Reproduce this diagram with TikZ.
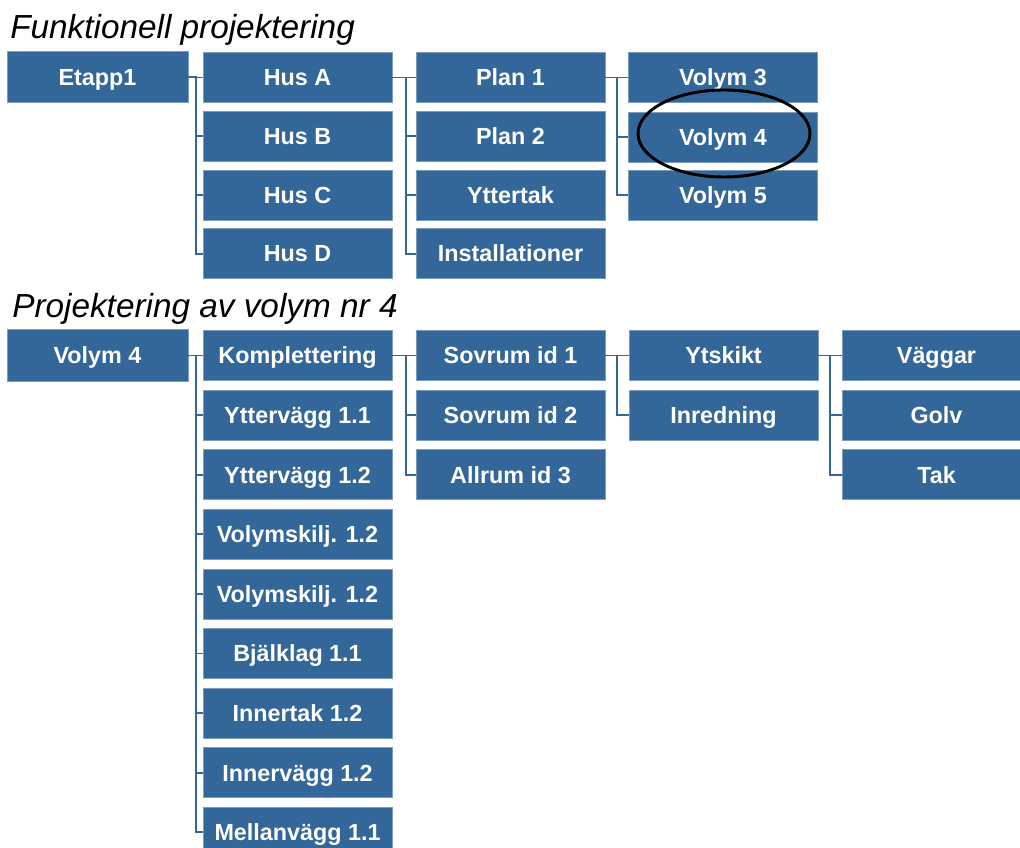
\documentclass[tikz,border=0pt]{standalone}
\usepackage{fontspec}
\setmainfont{Liberation Sans}
\usetikzlibrary{positioning}

\begin{document}
\begin{tikzpicture}[x=0.75pt, y=-0.75pt,
  box/.style={fill=boxblue, draw=boxblue!65!white, line width=0.5pt, text=white,
    font=\bfseries\fontsize{17.5}{20}\selectfont, inner sep=0pt,
    text height=12.5pt, text depth=0pt,
    minimum width=141.75pt, minimum height=37.5pt},
  rootbox/.style={box, minimum width=135.75pt, minimum height=38.5pt},
  title/.style={anchor=base west, inner sep=0pt, font=\itshape\fontsize{25}{30}\selectfont},
  link/.style={draw=boxblue, line width=1.4pt}]

% Define colors
\definecolor{boxblue}{RGB}{51, 102, 153}

\useasboundingbox (0,0) rectangle (1020,848);

% Titles
\node[title] (t1) at (10, 39) {Funktionell projektering};
\node[title] (t2) at (12, 318) {Projektering av volym nr 4};

% Upper tree
\node[rootbox] (etapp) at (97.5, 77) {Etapp1};

\node[box] (husA) at (297.5, 77.5) {Hus A};
\node[box] (husB) at (297.5, 136.2) {Hus B};
\node[box] (husC) at (297.5, 194.9) {Hus C};
\node[box] (husD) at (297.5, 253.6) {Hus D};

\node[box] (plan1) at (510.5, 77.5) {Plan 1};
\node[box] (plan2) at (510.5, 136.2) {Plan 2};
\node[box] (yttertak) at (510.5, 194.9) {Yttertak};
\node[box] (install) at (510.5, 253.6) {Installationer};

\node[box] (vol3) at (723, 77.5) {Volym 3};
\node[box] (vol4) at (723, 137) {Volym 4};
\node[box] (vol5) at (723, 195) {Volym 5};

% Lower tree
\node[rootbox] (volym) at (97.5, 355.5) {Volym 4};

\node[box] (kompl) at (297.5, 355.5) {Komplettering};
\node[box] (ytt1) at (297.5, 415.1) {Yttervägg 1.1};
\node[box] (ytt2) at (297.5, 474.7) {Yttervägg 1.2};
\node[box] (vskA) at (297.5, 534.3) {Volymskilj. 1.2};
\node[box] (vskB) at (297.5, 593.9) {Volymskilj. 1.2};
\node[box] (bjalk) at (297.5, 653.5) {Bjälklag 1.1};
\node[box] (innertak) at (297.5, 713.1) {Innertak 1.2};
\node[box] (innervagg) at (297.5, 772.7) {Innervägg 1.2};
\node[box] (mellan) at (297.5, 832.3) {Mellanvägg 1.1};

\node[box] (sovrum1) at (510.5, 355.5) {Sovrum id 1};
\node[box] (sovrum2) at (510.5, 415.1) {Sovrum id 2};
\node[box] (allrum) at (510.5, 474.7) {Allrum id 3};

\node[box] (ytskikt) at (723.5, 355.5) {Ytskikt};
\node[box] (inredning) at (723.5, 415.1) {Inredning};

\node[box] (vaggar) at (936.5, 355.5) {Väggar};
\node[box] (golv) at (936.5, 415.1) {Golv};
\node[box] (tak) at (936.5, 474.7) {Tak};

% Connectors
\foreach \c in {husA, husB, husC, husD}
  \draw[link] (etapp.east) -- ++(8,0) |- (\c.west);
\foreach \c in {plan1, plan2, yttertak, install}
  \draw[link] (husA.east) -- ++(14,0) |- (\c.west);
\foreach \c in {vol3, vol4, vol5}
  \draw[link] (plan1.east) -- ++(12,0) |- (\c.west);

\foreach \c in {kompl, ytt1, ytt2, vskA, vskB, bjalk, innertak, innervagg, mellan}
  \draw[link] (volym.east) -- ++(8,0) |- (\c.west);
\foreach \c in {sovrum1, sovrum2, allrum}
  \draw[link] (kompl.east) -- ++(14,0) |- (\c.west);
\foreach \c in {ytskikt, inredning}
  \draw[link] (sovrum1.east) -- ++(12,0) |- (\c.west);
\foreach \c in {vaggar, golv, tak}
  \draw[link] (ytskikt.east) -- ++(12,0) |- (\c.west);

% Highlight ring
\draw[line width=2.2pt] (vol4.center) ++(1,-3.5) ellipse [x radius=86, y radius=43.5];

\end{tikzpicture}
\end{document}
